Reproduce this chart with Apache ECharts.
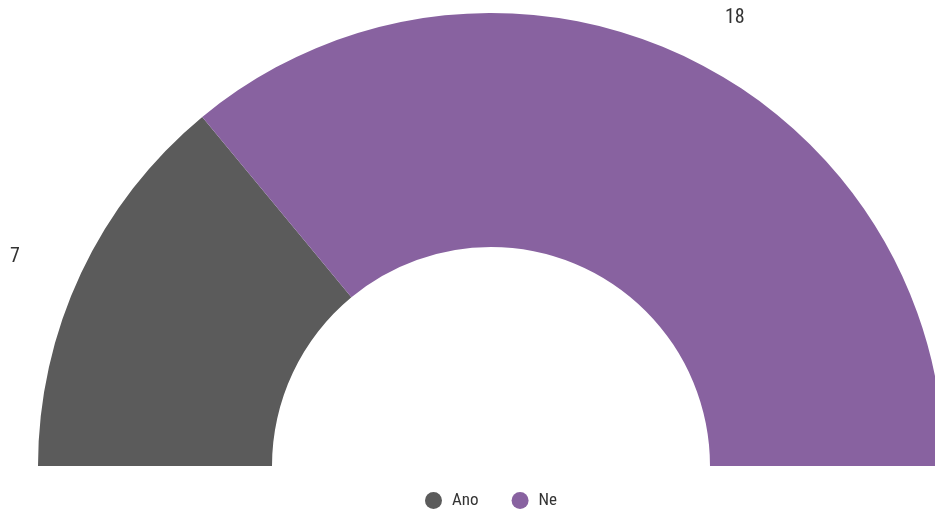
<!DOCTYPE html>
<html>
<head>
<meta charset="utf-8">
<script src="https://cdn.jsdelivr.net/npm/echarts@6/dist/echarts.min.js"></script>
<style>
html,body{margin:0;padding:0;background:#fff;}
#chart{width:935px;height:511px;}
</style>
</head>
<body>
<div id="chart"></div>
<script>
const categories = ["Ano", "Ne"];
const values = [7, 18];
const colors = ["#5b5b5b", "#8862a0"];

const FONT = "'Roboto Condensed', 'Open Sans', sans-serif";
const chart = echarts.init(document.getElementById('chart'));
// label text anchor positions (left edge, vertical middle)
const labelPos = [[10, 257], [725, 18]];
chart.setOption({
  animation: false,
  legend: {
    top: 487,
    left: 420,
    padding: 5,
    icon: 'circle',
    itemWidth: 17,
    itemHeight: 17,
    itemGap: 33,
    textStyle: { fontFamily: FONT, fontSize: 17, color: '#333', padding: [0, 0, 0, 5] },
    data: categories
  },
  series: [{
    type: 'pie',
    center: [491, 466],
    radius: [219, 453],
    startAngle: 180,
    endAngle: 0,
    clockwise: true,
    avoidLabelOverlap: false,
    itemStyle: { borderWidth: 0 },
    label: {
      show: true,
      position: 'outside',
      formatter: '{c}',
      fontFamily: FONT,
      fontSize: 20,
      color: '#333'
    },
    labelLine: { show: false },
    labelLayout: function (params) {
      const p = labelPos[params.dataIndex];
      return { x: p[0], y: p[1], align: 'left', verticalAlign: 'middle' };
    },
    emphasis: { disabled: true },
    data: categories.map((c, i) => ({ name: c, value: values[i], itemStyle: { color: colors[i] } }))
  }]
});
</script>
</body>
</html>
